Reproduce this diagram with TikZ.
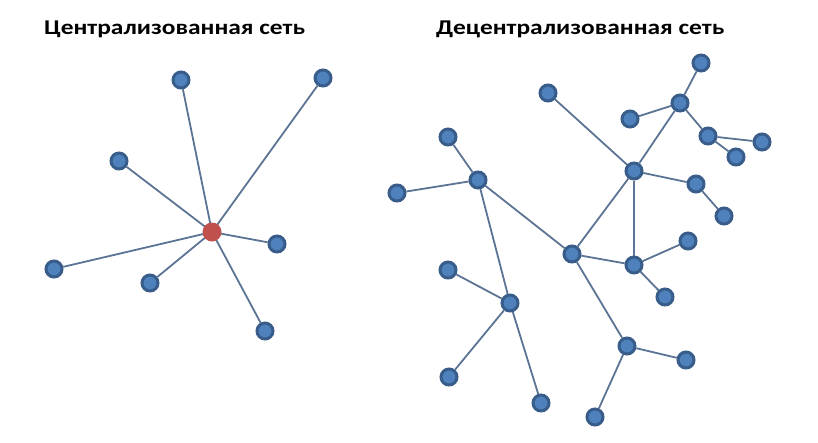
\documentclass[tikz,border=0pt]{standalone}
\usepackage{fontspec}
\setmainfont{Carlito}
\definecolor{nodefill}{RGB}{79,129,189}
\definecolor{nodeline}{RGB}{56,93,138}
\definecolor{hubfill}{RGB}{192,80,77}
\definecolor{edgecol}{RGB}{92,116,148}
\begin{document}
\begin{tikzpicture}[x=1pt,y=-1pt,
  pc/.style={circle,inner sep=0pt,minimum size=16pt,line width=3pt,draw=nodeline,fill=nodefill},
  hub/.style={circle,inner sep=0pt,minimum size=19pt,fill=hubfill},
  link/.style={draw=edgecol,line width=1.8pt},
  title/.style={anchor=base west,inner sep=0pt,font=\fontsize{21}{25}\selectfont\bfseries}]
\useasboundingbox (0,0) rectangle (818,442);
\node[title] (t1) at (44,34) {\scalebox{1.21}[1]{Централизованная сеть}};
\node[title] (t2) at (436,34) {\scalebox{1.21}[1]{Децентрализованная сеть}};
% centralized
\coordinate (Cc) at (212,232);
\node[pc] (l1) at (181,80) {};
\node[pc] (l2) at (323,78) {};
\node[pc] (l3) at (119,161) {};
\node[pc] (l4) at (54,269) {};
\node[pc] (l5) at (150,283) {};
\node[pc] (l6) at (277,244) {};
\node[pc] (l7) at (265,331) {};
\foreach \n in {l1,l2,l3,l4,l5,l6,l7}
  \draw[link] (Cc) -- (\n);
\node[hub] (c) at (Cc) {};
% decentralized
\node[pc] (a) at (701,63) {};
\node[pc] (b) at (680,103) {};
\node[pc] (cc) at (630,119) {};
\node[pc] (d) at (708,136) {};
\node[pc] (e) at (762,142) {};
\node[pc] (f) at (736,157) {};
\node[pc] (g) at (548,93) {};
\node[pc] (h) at (634,171) {};
\node[pc] (i) at (696,184) {};
\node[pc] (j) at (724,216) {};
\node[pc] (k) at (448,137) {};
\node[pc] (m) at (478,180) {};
\node[pc] (n) at (397,193) {};
\node[pc] (p) at (572,254) {};
\node[pc] (q) at (634,265) {};
\node[pc] (r) at (688,241) {};
\node[pc] (s) at (665,297) {};
\node[pc] (t) at (510,303) {};
\node[pc] (u) at (448,270) {};
\node[pc] (v) at (449,377) {};
\node[pc] (w) at (541,403) {};
\node[pc] (x) at (627,346) {};
\node[pc] (y) at (686,360) {};
\node[pc] (z) at (595,417) {};
\foreach \s/\e in {a/b,b/cc,b/d,d/e,d/f,b/h,g/h,h/i,i/j,h/q,h/p,m/k,m/n,m/p,m/t,p/q,q/r,q/s,p/x,x/y,x/z,t/u,t/v,t/w}
  \draw[link] (\s) -- (\e);
\end{tikzpicture}
\end{document}
